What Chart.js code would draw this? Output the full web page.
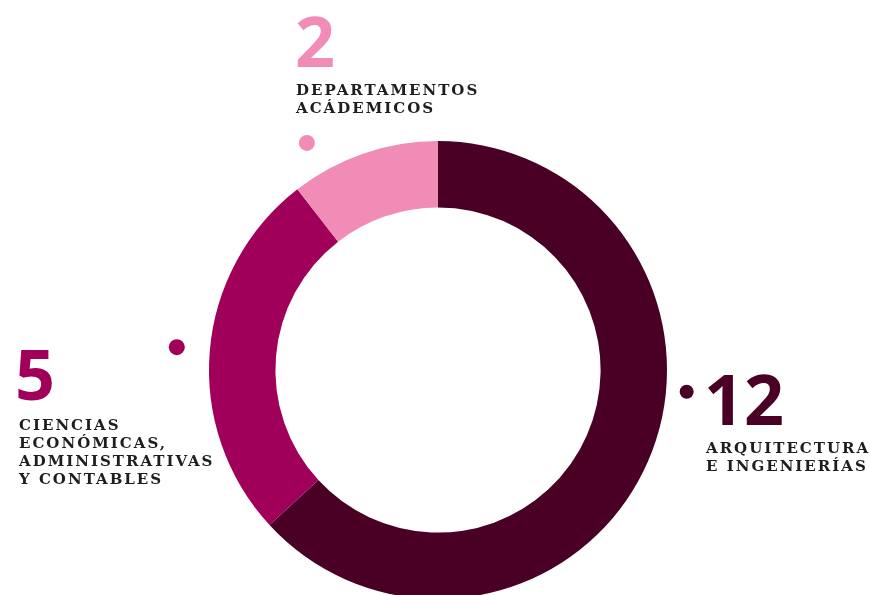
<!DOCTYPE html>
<html>
<head>
<meta charset="utf-8">
<script src="https://cdn.jsdelivr.net/npm/chart.js@4"></script>
<style>
  html, body { margin: 0; padding: 0; background: #fff; overflow: hidden; }
  #wrap { position: relative; width: 870px; height: 620px; }
  #chart { position: absolute; left: 0; top: 0; }
  .num { position: absolute; font-family: "Noto Sans", sans-serif; font-weight: 700; font-size: 70px; line-height: 70px; }
  .lbl { position: absolute; font-family: "DejaVu Serif", serif; font-weight: 700; font-size: 15px; line-height: 18px; letter-spacing: 2px; color: #1e1e1e; white-space: nowrap; }
</style>
</head>
<body>
<div id="wrap">
  <canvas id="chart" width="870" height="620"></canvas>
  <div id="labels"></div>
</div>
<script>
// departments per area
const areas = ['ARQUITECTURA|E INGENIERÍAS', 'CIENCIAS|ECONÓMICAS,|ADMINISTRATIVAS|Y CONTABLES', 'DEPARTAMENTOS|ACÁDEMICOS'];
const counts = [12, 5, 2];
const colors = ['#4a0024', '#a0005a', '#f08cb6'];

// where the little dot sits for each slice (degrees clockwise from top, radius factor)
const dotAngle = [95, 275, 330];
const dotDist = [1.09, 1.145, 1.145];
const dotSize = [7, 8, 8];

// text block positions
const labelPos = [
  { numLeft: 704, numTop: 363, lblLeft: 706, lblTop: 439 },
  { numLeft: 15, numTop: 338, lblLeft: 19, lblTop: 416 },
  { numLeft: 295, numTop: 5, lblLeft: 296, lblTop: 81 }
];

const dotsPlugin = {
  id: 'dots',
  afterDatasetsDraw(chart) {
    const ctx = chart.ctx;
    const arcs = chart.getDatasetMeta(0).data;
    const cx = arcs[0].x, cy = arcs[0].y, r = arcs[0].outerRadius;
    arcs.forEach((arc, i) => {
      const a = dotAngle[i] * Math.PI / 180;
      const d = r * dotDist[i];
      ctx.save();
      ctx.fillStyle = colors[i];
      ctx.beginPath();
      ctx.arc(cx + d * Math.sin(a), cy - d * Math.cos(a), dotSize[i], 0, Math.PI * 2);
      ctx.fill();
      ctx.restore();
    });
  }
};

new Chart(document.getElementById('chart'), {
  type: 'doughnut',
  data: {
    labels: areas.map(a => a.replace(/\|/g, ' ')),
    datasets: [{
      data: counts,
      backgroundColor: colors,
      borderWidth: 0
    }]
  },
  options: {
    responsive: false,
    animation: false,
    cutout: '71%',
    layout: { padding: { top: 141, bottom: 21, left: 209, right: 203 } },
    plugins: {
      legend: { display: false },
      tooltip: { enabled: false }
    }
  },
  plugins: [dotsPlugin]
});

// number + caption for each area
const holder = document.getElementById('labels');
areas.forEach((name, i) => {
  const n = document.createElement('div');
  n.className = 'num';
  n.style.left = labelPos[i].numLeft + 'px';
  n.style.top = labelPos[i].numTop + 'px';
  n.style.color = colors[i];
  n.textContent = counts[i];
  holder.appendChild(n);

  const l = document.createElement('div');
  l.className = 'lbl';
  l.style.left = labelPos[i].lblLeft + 'px';
  l.style.top = labelPos[i].lblTop + 'px';
  l.innerHTML = name.split('|').join('<br>');
  holder.appendChild(l);
});
</script>
</body>
</html>
